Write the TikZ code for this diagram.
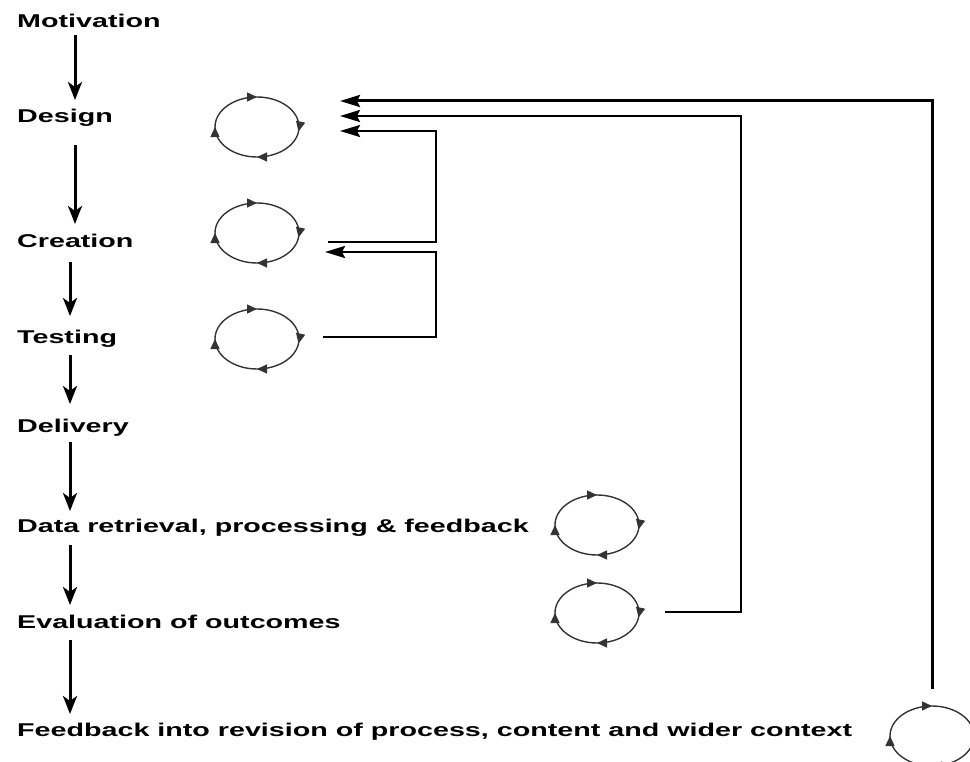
\documentclass[tikz,border=0pt]{standalone}
\usepackage{fontspec}
\setmainfont{Liberation Sans}
\usetikzlibrary{arrows.meta,shapes.geometric,decorations.markings,calc}
\begin{document}
\begin{tikzpicture}[x=1pt,y=-1pt,
  lbl/.style={anchor=base west,inner sep=0pt,font=\fontsize{18.5}{20}\selectfont\bfseries},
  flow/.style={line width=3pt,-{Stealth[length=18pt,width=14pt,inset=5pt]}},
  back/.style={line width=2.6pt,-{Stealth[length=20pt,width=12pt,inset=3pt]}},
  loopc/.style={draw=black!80,line width=1.4pt,ellipse,minimum width=84pt,minimum height=60pt,inner sep=0pt,
    postaction={decorate,decoration={markings,
      mark=at position 0.25 with {\arrowreversed{Triangle[length=10pt,width=9pt]}},
      mark=at position 0.5 with {\arrowreversed{Triangle[length=10pt,width=9pt]}},
      mark=at position 0.75 with {\arrowreversed{Triangle[length=10pt,width=9pt]}},
      mark=at position 0.98 with {\arrowreversed{Triangle[length=10pt,width=9pt]}}}}}
]
\useasboundingbox (0,0) rectangle (970,762);
\fill[white] (0,0) rectangle (970,762);

% stage labels
\node[lbl] (mot) at (17,28)  {\scalebox{1.55}[1]{Motivation}};
\node[lbl] (des) at (17,123) {\scalebox{1.55}[1]{Design}};
\node[lbl] (cre) at (17,248) {\scalebox{1.55}[1]{Creation}};
\node[lbl] (tes) at (17,343) {\scalebox{1.55}[1]{Testing}};
\node[lbl] (del) at (17,432) {\scalebox{1.55}[1]{Delivery}};
\node[lbl] (dat) at (17,532) {\scalebox{1.55}[1]{Data retrieval, processing \& feedback}};
\node[lbl] (eva) at (17,628) {\scalebox{1.55}[1]{Evaluation of outcomes}};
\node[lbl] (fee) at (17,736) {\scalebox{1.55}[1]{Feedback into revision of process, content and wider context}};

% iteration loops
\node[loopc] (cD) at (257,127) {};
\node[loopc] (cC) at (257,233) {};
\node[loopc] (cT) at (257,339) {};
\node[loopc] (cR) at (597,525) {};
\node[loopc] (cE) at (597,613) {};
\node[loopc] (cF) at (932,736) {};

% main flow
\coordinate (a1s) at (75,35);  \coordinate (a1e) at (75,100);
\coordinate (a2s) at (75,145); \coordinate (a2e) at (75,224);
\coordinate (a3s) at (70,262); \coordinate (a3e) at (70,316);
\coordinate (a4s) at (70,355); \coordinate (a4e) at (70,404);
\coordinate (a5s) at (70,442); \coordinate (a5e) at (70,511);
\coordinate (a6s) at (70,545); \coordinate (a6e) at (70,605);
\coordinate (a7s) at (70,640); \coordinate (a7e) at (70,714);
\draw[flow] (a1s) -- (a1e);
\draw[flow] (a2s) -- (a2e);
\draw[flow] (a3s) -- (a3e);
\draw[flow] (a4s) -- (a4e);
\draw[flow] (a5s) -- (a5e);
\draw[flow] (a6s) -- (a6e);
\draw[flow] (a7s) -- (a7e);

% feedback connectors
\coordinate (f1s) at (932,689); \coordinate (f1t) at (340,101);
\coordinate (f2s) at (665,612); \coordinate (f2t) at (340,116);
\coordinate (f3s) at (328,242); \coordinate (f3t) at (340,131);
\coordinate (f4s) at (323,337); \coordinate (f4t) at (325,252);
\draw[back,line width=3pt] (f1s) -- (932,101) -- (f1t);
\draw[back,line width=2.3pt] (f2s) -- (741,612) -- (741,116) -- (f2t);
\draw[back,line width=2.6pt] (f3s) -- (436,242) -- (436,131) -- (f3t);
\draw[back,line width=2.6pt] (f4s) -- (436,337) -- (436,252) -- (f4t);
\end{tikzpicture}
\end{document}
